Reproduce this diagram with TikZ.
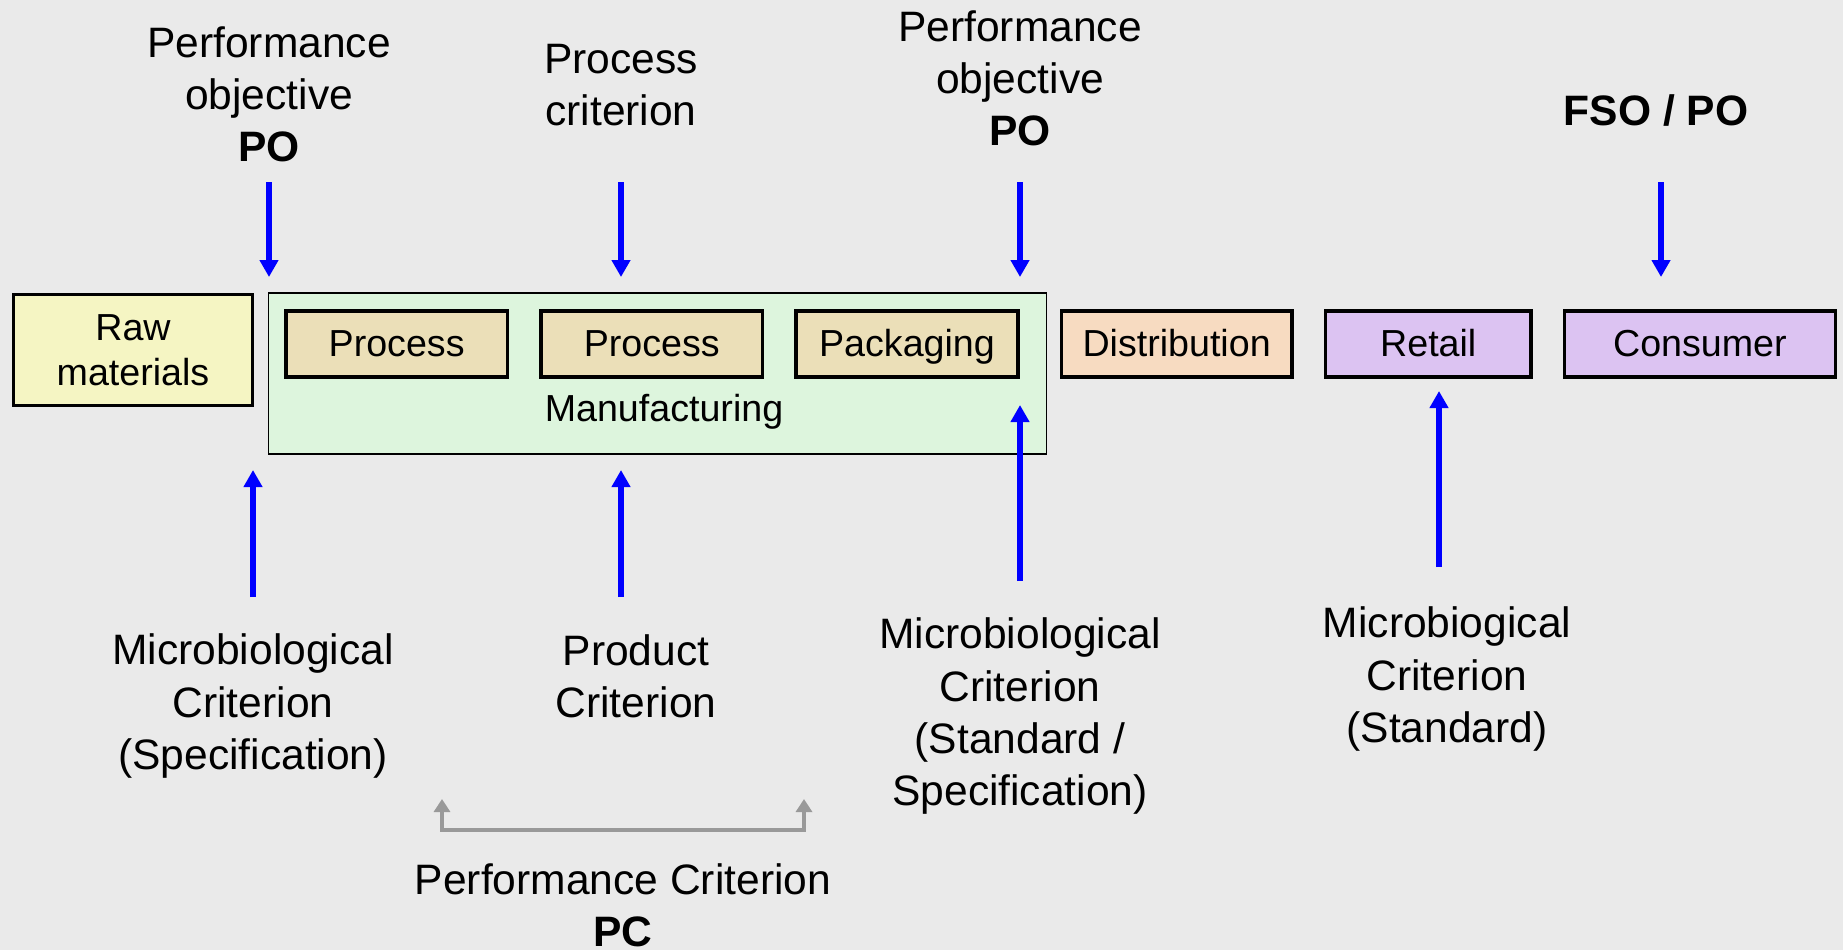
\documentclass[tikz,border=0pt]{standalone}
\usepackage{fontspec}
\setmainfont{Liberation Sans}
\usepackage{xcolor}
\usepackage{tikz}
\usetikzlibrary{shapes.geometric, arrows.meta, positioning, fit}

\definecolor{bggray}{HTML}{EAEAEA}
\definecolor{rawyellow}{HTML}{F5F5C3}
\definecolor{mfggreen}{HTML}{DDF5DD}
\definecolor{proctan}{HTML}{EBDFB8}
\definecolor{distpeach}{HTML}{F7DBC1}
\definecolor{retaillilac}{HTML}{DCC3F2}
\definecolor{pcgray}{HTML}{999999}

\begin{document}
\begin{tikzpicture}[x=0.01cm, y=-0.01cm, node distance=0.3cm, font=\fontsize{12.1}{14.8}\selectfont]
	% Styles
	\tikzstyle{stage} = [draw, line width=0.035cm, rectangle, minimum height=0.655cm, inner sep=0pt, align=center, font=\fontsize{10.7}{12.7}\selectfont]
	\tikzstyle{single} = [stage, text height=0.76em, text depth=0.04em]
	\tikzstyle{rawbox} = [stage, fill=rawyellow, minimum width=2.385cm, minimum height=1.105cm]
	\tikzstyle{procbox} = [single, fill=proctan, minimum width=2.215cm]
	\tikzstyle{container} = [draw, line width=0.012cm, fill=mfggreen, rectangle, minimum width=7.77cm, minimum height=1.61cm, inner sep=0pt]
	\tikzstyle{note} = [align=center, inner sep=0pt]
	\tikzstyle{arrow} = [line width=0.06cm, blue, ->, >={Triangle[width=0.18cm, length=0.17cm]}]
	\tikzstyle{pcarrow} = [line width=0.04cm, pcgray, <->, >={Triangle[width=0.16cm, length=0.13cm]}]

	% Background
	\path [use as bounding box, fill=bggray] (0,0) rectangle (1843,950);

	% Nodes
	\node (raw) [rawbox] at (133,350) {Raw\\materials};
	\node (mfg) [container] at (657.5,373.5) {};
	\node (proc1) [procbox, right=of raw, yshift=0.06cm] {Process};
	\node (proc2) [procbox, right=of proc1] {Process};
	\node (pack) [procbox, right=of proc2] {Packaging};
	\node (mfgtext) [note, font=\fontsize{10.7}{12.7}\selectfont] at (664,412) {Manufacturing};
	\node (dist) [single, fill=distpeach, minimum width=2.305cm, right=0.4cm of pack] {Distribution};
	\node (retail) [single, fill=retaillilac, minimum width=2.055cm, right=of dist] {Retail};
	\node (cons) [single, fill=retaillilac, minimum width=2.705cm, right=of retail] {Consumer};

	\node (po1) [note] at (269,94) {Performance\\objective\\\textbf{PO}};
	\node (pcrit) [note] at (621,85) {Process\\criterion};
	\node (po2) [note] at (1020,78) {Performance\\objective\\\textbf{PO}};
	\node (fso) [note] at (1656,110) {\textbf{FSO / PO}};

	\node (mc1) [note] at (253,706) {Microbiological\\Criterion\\(Specification)};
	\node (prod) [note] at (636,676) {Product\\Criterion};
	\node (mc2) [note] at (1020,716) {Microbiological\\Criterion\\(Standard /\\Specification)};
	\node (mc3) [note] at (1447,679) {Microbiogical\\Criterion\\(Standard)};
	\node (pc) [note] at (623,905) {Performance Criterion\\\textbf{PC}};

	% Arrow ends
	\coordinate (po1 tail) at (269,182);   \coordinate (po1 head) at (269,277);
	\coordinate (pcrit tail) at (621,182); \coordinate (pcrit head) at (621,277);
	\coordinate (po2 tail) at (1020,182);  \coordinate (po2 head) at (1020,277);
	\coordinate (fso tail) at (1661,182);  \coordinate (fso head) at (1661,277);
	\coordinate (mc1 tail) at (253,597);   \coordinate (mc1 head) at (253,470);
	\coordinate (prod tail) at (621,597);  \coordinate (prod head) at (621,470);
	\coordinate (mc2 tail) at (1020,581);  \coordinate (mc2 head) at (1020,405);
	\coordinate (mc3 tail) at (1439,567);  \coordinate (mc3 head) at (1439,391);
	\coordinate (pc left) at (442,799);    \coordinate (pc right) at (804,799);

	% Connections
	\draw [arrow] (po1 tail) -- (po1 head);
	\draw [arrow] (pcrit tail) -- (pcrit head);
	\draw [arrow] (po2 tail) -- (po2 head);
	\draw [arrow] (fso tail) -- (fso head);
	\draw [arrow] (mc1 tail) -- (mc1 head);
	\draw [arrow] (prod tail) -- (prod head);
	\draw [arrow] (mc2 tail) -- (mc2 head);
	\draw [arrow] (mc3 tail) -- (mc3 head);
	\draw [pcarrow] (pc left) -- ++(0,31) -| (pc right);

\end{tikzpicture}
\end{document}
